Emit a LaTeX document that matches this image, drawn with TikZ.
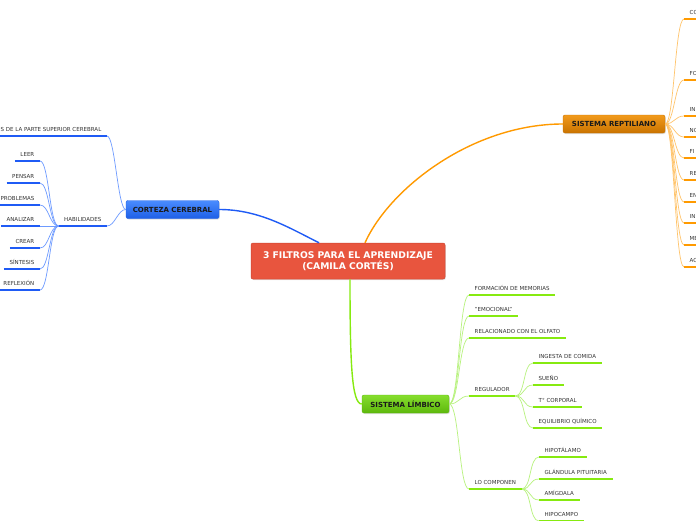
\documentclass[tikz,border=0pt]{standalone}
\usepackage{fontspec}
\setmainfont{DejaVu Sans}
\usetikzlibrary{shadows}
\definecolor{mmred}{HTML}{E8553E}
\definecolor{mmredline}{HTML}{CC4631}
\definecolor{mmbluetop}{HTML}{4A8CFF}
\definecolor{mmbluebot}{HTML}{1E5FE6}
\definecolor{mmblue}{HTML}{1F5BF5}
\definecolor{mmbluethin}{HTML}{6E9BFF}
\definecolor{mmorangetop}{HTML}{F29A1C}
\definecolor{mmorangebot}{HTML}{C97300}
\definecolor{mmorange}{HTML}{FF9A00}
\definecolor{mmorangethin}{HTML}{FFC46B}
\definecolor{mmgreentop}{HTML}{86DE2E}
\definecolor{mmgreenbot}{HTML}{5DB80C}
\definecolor{mmgreen}{HTML}{86EA10}
\definecolor{mmgreenthin}{HTML}{B8F27E}
\definecolor{mmtext}{HTML}{333333}
\definecolor{mmdark}{HTML}{1A1A1A}
\tikzset{
  root/.style={rectangle,rounded corners=2pt,draw=mmredline,fill=mmred,line width=.5pt,text=white,
    font=\fontsize{9.2}{10.8}\selectfont\bfseries,align=center,minimum width=194pt,minimum height=36pt,
    drop shadow={opacity=.2,shadow xshift=.8pt,shadow yshift=-1pt}},
  branch/.style={rectangle,rounded corners=2pt,line width=.4pt,text=mmdark,
    font=\fontsize{7}{8}\selectfont\bfseries,minimum height=18pt,
    drop shadow={opacity=.25,shadow xshift=.8pt,shadow yshift=-1pt}},
  leaf/.style={font=\fontsize{5.5}{6.5}\selectfont,text=mmtext,inner xsep=5.5pt,inner ysep=4pt,
    text height=4pt,text depth=0pt},
  stem/.style={line width=.7pt},
  bar/.style={line width=2.4pt},
  trunk/.style={line width=1.4pt},
}
\begin{document}
\begin{tikzpicture}[x=1pt,y=-1pt]
  \useasboundingbox (0,0) rectangle (696,520);
  \clip (0,0) rectangle (696,520);
  \fill[white] (0,0) rectangle (696,520);

  % ---- root and main branches ----
  \node[root] (main) at (348,261) {3 FILTROS PARA EL APRENDIZAJE\\(CAMILA CORTÉS)};
  \node[branch,draw=mmbluebot,top color=mmbluetop,bottom color=mmbluebot,minimum width=93pt] (corteza) at (172.5,209.5) {CORTEZA CEREBRAL};
  \node[branch,draw=mmorangebot,top color=mmorangetop,bottom color=mmorangebot,minimum width=102pt] (repti) at (614,124) {SISTEMA REPTILIANO};
  \node[branch,draw=mmgreenbot,top color=mmgreentop,bottom color=mmgreenbot,minimum width=87pt] (limbico) at (405.5,404) {SISTEMA LÍMBICO};

  \draw[trunk,mmblue] ([xshift=-29pt]main.north) .. controls +(-30,-15) and +(40,0) .. (corteza.east);
  \draw[trunk,mmorange] ([xshift=17pt]main.north) .. controls +(25,-55) and +(-90,0) .. (repti.west);
  \draw[trunk,mmgreen] ([xshift=2pt]main.south) .. controls +(0,85) and +(-10,0) .. (limbico.west);

  % ---- left: corteza cerebral ----
  \node[leaf,anchor=south east] (sup) at (107,136) {S DE LA PARTE SUPERIOR CEREBRAL};
  \node[leaf,anchor=south east] (hab) at (107,226) {HABILIDADES};
  \foreach \t/\y [count=\i] in {LEER/161,PENSAR/183,PROBLEMAS/205,ANALIZAR/226,CREAR/248,SÍNTESIS/269,REFLEXIÓN/290}
    \node[leaf,anchor=south east] (h\i) at (40,\y) {\t};

  \foreach \n in {sup,hab}
    \draw[stem,mmbluethin] (corteza.west) .. controls +(-8,0) and +(8,0) .. (\n.south east);
  \foreach \i in {1,...,7}
    \draw[stem,mmbluethin] (hab.south west) .. controls +(-9,0) and +(9,0) .. (h\i.south east);
  \foreach \n in {sup,hab,h1,h2,h3,h4,h5,h6,h7}
    \draw[bar,mmblue] (\n.south west) -- (\n.south east);

  % ---- right: sistema reptiliano ----
  \foreach \t/\y [count=\i] in {CO/19,FO/80,IN/116,NO/137,FI/158,RE/180,EN/202,IN/223,ME/245,AC/267}{
    \node[leaf,anchor=south west] (r\i) at (684,\y) {\t};
    \draw[stem,mmorangethin] (repti.east) .. controls +(9,0) and +(-9,0) .. (r\i.south west);
    \draw[bar,mmorange] (r\i.south west) -- (r\i.south east);
  }

  % ---- bottom: sistema limbico ----
  \node[leaf,anchor=south west] (l1) at (469,295) {FORMACIÓN DE MEMORIAS};
  \node[leaf,anchor=south west] (l2) at (469,316) {"EMOCIONAL"};
  \node[leaf,anchor=south west] (l3) at (469,338) {RELACIONADO CON EL OLFATO};
  \node[leaf,anchor=south west] (reg) at (469,396) {REGULADOR};
  \node[leaf,anchor=south west] (comp) at (469,489) {LO COMPONEN};
  \foreach \t/\y [count=\i] in {INGESTA DE COMIDA/363,SUEÑO/385,T° CORPORAL/407,EQUILIBRIO QUÍMICO/428}
    \node[leaf,anchor=south west] (g\i) at (533,\y) {\t};
  \foreach \t/\y [count=\i] in {HIPOTÁLAMO/457,GLÁNDULA PITUITARIA/479,AMÍGDALA/500,HIPOCAMPO/521}
    \node[leaf,anchor=south west] (c\i) at (539,\y) {\t};

  \foreach \n in {l1,l2,l3,reg,comp}
    \draw[stem,mmgreenthin] (limbico.east) .. controls +(10,0) and +(-10,0) .. (\n.south west);
  \foreach \i in {1,...,4}{
    \draw[stem,mmgreenthin] (reg.south east) .. controls +(10,0) and +(-10,0) .. (g\i.south west);
    \draw[stem,mmgreenthin] (comp.south east) .. controls +(10,0) and +(-10,0) .. (c\i.south west);
  }
  \foreach \n in {l1,l2,l3,reg,comp,g1,g2,g3,g4,c1,c2,c3,c4}
    \draw[bar,mmgreen] (\n.south west) -- (\n.south east);
\end{tikzpicture}
\end{document}
